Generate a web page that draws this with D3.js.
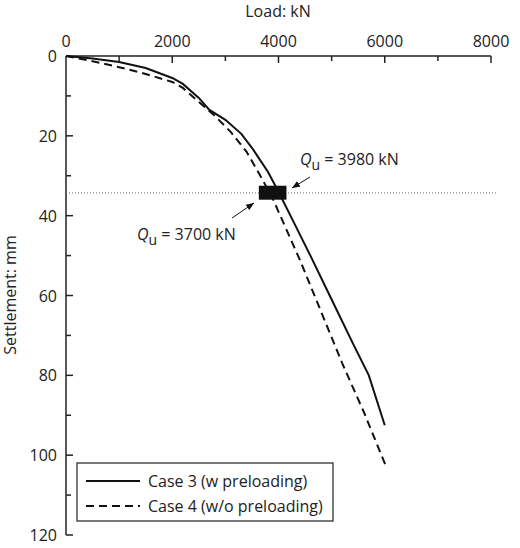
<!DOCTYPE html>
<html><head><meta charset="utf-8">
<script src="https://cdn.jsdelivr.net/npm/d3@7"></script>
<style>body{margin:0;background:#fff}text{font-family:"Open Sans",sans-serif;fill:#222}</style>
</head><body><div id="chart"></div>
<script>
// Case 3 (w preloading): [load kN, settlement mm]
var case3 = [[0,0],[500,0.6],[1000,1.5],[1500,3],[2000,5.5],[2200,7],[2500,10.5],[2700,13.5],[3000,16],[3300,19.5],[3500,23],[3800,29],[4000,34],[4300,42],[4600,50],[5000,61],[5400,72],[5700,80],[6000,92.5]];
// Case 4 (w/o preloading)
var case4 = [[0,0],[500,1.3],[1000,2.8],[1500,4.5],[2000,6.5],[2200,8],[2500,11.5],[2800,15],[3100,19],[3400,24],[3700,31],[3900,36],[4100,42],[4400,51],[4800,64],[5200,77],[5600,89],[6030,103]];
var xTicks = [0,2000,4000,6000,8000];
var yTicks = [0,20,40,60,80,100,120];
var qLine = 34.3;
var qBox = [3630,4150,32.5,36];

var w = 520, h = 548;
var svg = d3.select("#chart").append("svg").attr("width", w).attr("height", h);
var x = d3.scaleLinear().domain([0,8000]).range([66,491]);
var y = d3.scaleLinear().domain([0,120]).range([56,535]);

// axes
svg.append("line").attr("x1",66).attr("x2",491).attr("y1",56).attr("y2",56).attr("stroke","#222").attr("stroke-width",1.5);
svg.append("line").attr("x1",66).attr("x2",66).attr("y1",56).attr("y2",535).attr("stroke","#222").attr("stroke-width",1.5);
d3.range(1000,8001,1000).forEach(function(v){
  svg.append("line").attr("x1",x(v)).attr("x2",x(v)).attr("y1",56).attr("y2",v%2000==0?63:61).attr("stroke","#222").attr("stroke-width",1.5);
});
d3.range(10,121,10).forEach(function(v){
  svg.append("line").attr("x1",66).attr("x2",v%20==0?73:71).attr("y1",y(v)).attr("y2",y(v)).attr("stroke","#222").attr("stroke-width",1.5);
});
svg.selectAll(".xt").data(xTicks).enter().append("text").attr("x",function(d){return x(d);}).attr("y",47)
  .attr("text-anchor","middle").attr("font-size",16).text(function(d){return d;});
svg.selectAll(".yt").data(yTicks).enter().append("text").attr("x",57).attr("y",function(d){return y(d)+6;})
  .attr("text-anchor","end").attr("font-size",16).text(function(d){return d;});
svg.append("text").attr("x",278).attr("y",17).attr("text-anchor","middle").attr("font-size",16).text("Load: kN");
svg.append("text").attr("transform","translate(16,295) rotate(-90)").attr("text-anchor","middle").attr("font-size",16).text("Settlement: mm");

// dotted reference line and box
svg.append("line").attr("x1",66).attr("x2",497).attr("y1",y(qLine)).attr("y2",y(qLine)).attr("stroke","#666").attr("stroke-dasharray","1,2");

var line = d3.line().x(function(d){return x(d[0]);}).y(function(d){return y(d[1]);});
svg.append("path").attr("d",line(case4)).attr("fill","none").attr("stroke","#111").attr("stroke-width",2).attr("stroke-dasharray","8,5");
svg.append("path").attr("d",line(case3)).attr("fill","none").attr("stroke","#111").attr("stroke-width",2);
svg.append("rect").attr("x",x(qBox[0])).attr("width",x(qBox[1])-x(qBox[0])).attr("y",y(qBox[2])).attr("height",y(qBox[3])-y(qBox[2])).attr("fill","#111");

// annotations
svg.append("defs").append("marker").attr("id","ah").attr("viewBox","0 0 10 10").attr("refX",10).attr("refY",5)
  .attr("markerWidth",8).attr("markerHeight",8).attr("orient","auto").append("path").attr("d","M0,1L10,5L0,9z").attr("fill","#111");
svg.append("line").attr("x1",310).attr("y1",177).attr("x2",292).attr("y2",188).attr("stroke","#111").attr("marker-end","url(#ah)");
svg.append("line").attr("x1",232).attr("y1",218).attr("x2",254).attr("y2",203).attr("stroke","#111").attr("marker-end","url(#ah)");
function qLabel(tx, ty, val){
  var t = svg.append("text").attr("x",tx).attr("y",ty).attr("font-size",16);
  t.append("tspan").attr("font-style","italic").text("Q");
  t.append("tspan").attr("dy",5).attr("font-size",14).text("u");
  t.append("tspan").attr("dy",-5).text(" = " + val + " kN");
}
qLabel(300,165,3980);
qLabel(137,240,3700);

// legend
svg.append("rect").attr("x",77).attr("y",463).attr("width",256).attr("height",58).attr("fill","#fff").attr("stroke","#222").attr("stroke-width",1.2);
svg.append("line").attr("x1",86).attr("x2",140).attr("y1",481).attr("y2",481).attr("stroke","#111").attr("stroke-width",2);
svg.append("line").attr("x1",86).attr("x2",140).attr("y1",506).attr("y2",506).attr("stroke","#111").attr("stroke-width",2).attr("stroke-dasharray","8,5");
svg.append("text").attr("x",148).attr("y",487).attr("font-size",16).text("Case 3 (w preloading)");
svg.append("text").attr("x",148).attr("y",512).attr("font-size",16).text("Case 4 (w/o preloading)");
</script></body></html>
